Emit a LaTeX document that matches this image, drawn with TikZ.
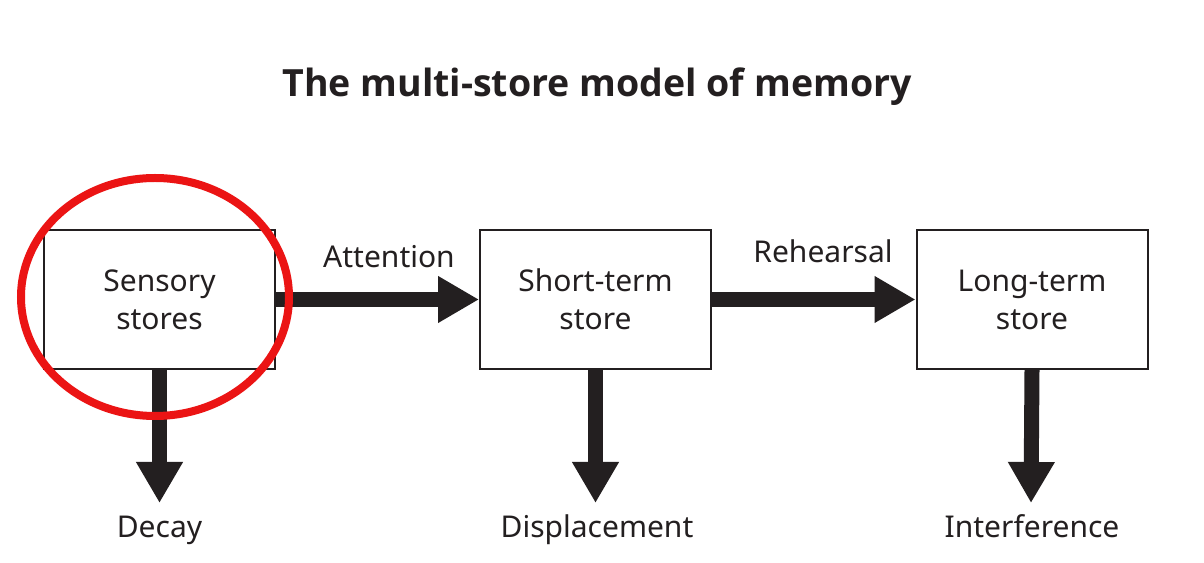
\documentclass[tikz,border=0pt]{standalone}
\usepackage{fontspec}
\setmainfont{Noto Sans}
\newfontfamily\titlefont{Open Sans}
\usetikzlibrary{arrows.meta}
\definecolor{ink}{RGB}{35,31,32}
\definecolor{ringred}{RGB}{235,20,20}
\tikzset{
  x=1pt, y=1pt,
  storebox/.style={draw=ink, line width=2pt, minimum width=231pt, minimum height=139pt,
    align=center, text=ink, font=\fontsize{30}{38}\selectfont, inner sep=0pt},
  flow/.style={draw=ink, line width=15pt, -{Triangle[width=44pt,length=41pt]}},
  lbl/.style={text=ink, font=\fontsize{30}{36}\selectfont, inner sep=0pt, anchor=base},
}
\begin{document}
\begin{tikzpicture}
\useasboundingbox (0,0) rectangle (1204,562);
\fill[white] (0,0) rectangle (1204,562);
\node[text=ink, font=\titlefont\fontsize{37.5}{44}\selectfont\bfseries, inner sep=0pt, anchor=base] (title) at (597,465) {The multi-store model of memory};
\node[storebox] (s1) at (159.5,262.5) {Sensory\\stores};
\node[storebox] (s2) at (595.5,262.5) {Short-term\\store};
\node[storebox] (s3) at (1032,262.5) {Long-term\\store};
\coordinate (d1) at (159.5,59);
\coordinate (d2) at (595.5,59);
\coordinate (d3) at (1031,59);
\node[lbl] (decay) at (159.5,25) {Decay};
\node[lbl] (disp) at (597,25) {Displacement};
\node[lbl] (intf) at (1032,25) {Interference};
\draw[flow] (s1.east) -- (s2.west);
\draw[flow] (s2.east) -- (s3.west);
\node[lbl] (att) at (389,294) {Attention};
\node[lbl] (reh) at (823,299) {Rehearsal};
\draw[flow] (s1.south) -- (d1);
\draw[flow] (s2.south) -- (d2);
\draw[flow] (s3.south) -- (d3);
\draw[ringred, line width=8pt] (155,265) ellipse [x radius=134pt, y radius=119pt];
\end{tikzpicture}
\end{document}
